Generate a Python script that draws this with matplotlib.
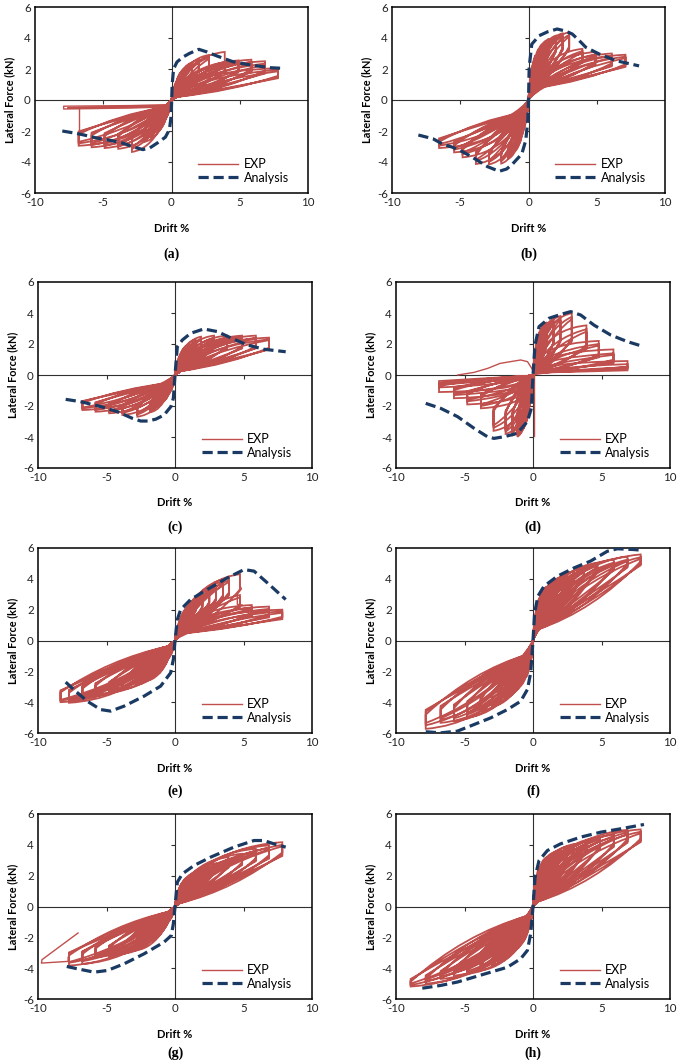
import matplotlib
matplotlib.use("Agg")
import matplotlib.pyplot as plt
from matplotlib.path import Path
from matplotlib.patches import PathPatch
from matplotlib.lines import Line2D
import matplotlib.lines as mlines

plt.rcParams['font.family'] = ['Lato', 'DejaVu Sans']

W, H = 677, 1063
RED = "#C0504D"
NAVY = "#1B3A63"

X_TICKS = [-10, -5, 0, 5, 10]
Y_TICKS = [-6, -4, -2, 0, 2, 4, 6]
CAPTIONS = ["(a)", "(b)", "(c)", "(d)", "(e)", "(f)", "(g)", "(h)"]

# ---------------- panel (a) ----------------
A_ANA_X = [-8.0, -7.0, -6.4, -5.5, -4.5, -3.5, -2.9, -2.1, -1.6, -1.0, -0.45, -0.15, -0.05, 0.0, 0.05, 0.15, 0.4, 0.8, 1.3, 2.0, 2.6, 3.3, 4.5, 5.5, 6.5, 7.3, 8.0]
A_ANA_Y = [-2.0, -2.15, -2.26, -2.45, -2.6, -2.8, -3.0, -3.2, -3.1, -2.75, -2.4, -1.9, -1.2, -0.3, 1.0, 2.0, 2.45, 2.75, 3.0, 3.27, 3.1, 2.85, 2.47, 2.3, 2.17, 2.08, 2.05]
A_POS_D = [0.25, 0.5, 0.75, 1.0, 1.5, 2.0, 2.75, 3.9, 4.9, 5.85, 6.85, 7.8]
A_POS_F1 = [0.9, 1.4, 1.8, 2.05, 2.4, 2.6, 2.9, 3.1, 2.55, 2.6, 2.5, 2.05]
A_POS_F2 = [0.85, 1.3, 1.7, 1.95, 2.3, 2.5, 2.75, 2.45, 2.45, 2.45, 2.35, 1.95]
A_POS_F3 = [0.8, 1.25, 1.65, 1.9, 2.25, 2.45, 2.65, 2.4, 2.35, 2.35, 2.25, 1.85]
A_NEG_D = [-0.25, -0.5, -0.75, -1.0, -1.5, -2.0, -2.9, -3.9, -4.9, -5.85, -6.8]
A_NEG_F1 = [-0.8, -1.3, -1.7, -2.0, -2.4, -2.7, -3.35, -3.15, -3.1, -3.05, -2.95]
A_NEG_F2 = [-0.75, -1.25, -1.6, -1.9, -2.3, -2.6, -3.15, -3.0, -2.95, -2.9, -2.8]
A_NEG_F3 = [-0.7, -1.2, -1.55, -1.85, -2.25, -2.55, -3.05, -2.9, -2.85, -2.8, -2.7]
A_KNEE = [0.3, 1.0, -0.35, -1.0]
A_PINCH = [0.4, 0.2, -0.5, -0.45]
A_RATIO = [0.76, 0.75]
A_EXTRA1_X = [-0.3, -3.0, -7.9, -7.9, -3.0, -0.5, -0.5, -3.0, -7.6]
A_EXTRA1_Y = [-0.3, -0.36, -0.4, -0.58, -0.52, -0.45, -0.38, -0.44, -0.5]
A_EXTRA2_X = [-6.8, -6.8]
A_EXTRA2_Y = [-0.5, -2.2]

# ---------------- panel (b) ----------------
B_ANA_X = [-8.07, -7.0, -6.3, -5.56, -4.8, -4.1, -3.0, -2.15, -1.6, -1.17, -0.49, -0.2, -0.05, 0.0, 0.05, 0.24, 0.78, 1.4, 2.1, 2.7, 3.2, 3.7, 4.2, 5.17, 6.4, 7.2, 8.1]
B_ANA_Y = [-2.26, -2.5, -2.84, -3.05, -3.35, -3.7, -4.3, -4.6, -4.45, -4.13, -3.48, -2.6, -1.3, 0.0, 2.1, 3.6, 4.15, 4.4, 4.58, 4.45, 4.26, 3.85, 3.4, 2.97, 2.54, 2.38, 2.2]
B_POS_D = [0.25, 0.5, 0.75, 1.0, 1.25, 1.5, 2.0, 2.5, 2.98, 3.95, 4.9, 6.1, 7.1]
B_POS_F1 = [2.0, 2.9, 3.3, 3.6, 3.8, 3.95, 4.15, 4.3, 4.37, 3.3, 3.1, 3.0, 2.92]
B_POS_F2 = [1.9, 2.8, 3.2, 3.5, 3.7, 3.85, 4.0, 4.15, 4.2, 3.15, 2.95, 2.85, 2.8]
B_POS_F3 = [1.85, 2.7, 3.1, 3.4, 3.6, 3.75, 3.9, 4.05, 4.1, 3.05, 2.85, 2.75, 2.7]
B_NEG_D = [-0.25, -0.5, -0.75, -1.0, -1.5, -2.0, -2.9, -3.85, -4.83, -5.45, -6.55]
B_NEG_F1 = [-1.5, -2.3, -2.9, -3.3, -3.8, -4.1, -4.15, -4.13, -3.7, -3.38, -3.1]
B_NEG_F2 = [-1.4, -2.2, -2.8, -3.2, -3.7, -3.95, -4.0, -3.95, -3.5, -3.2, -2.95]
B_NEG_F3 = [-1.35, -2.1, -2.7, -3.1, -3.6, -3.85, -3.9, -3.85, -3.4, -3.1, -2.85]
B_KNEE = [0.3, 1.3, -0.3, -1.2]
B_PINCH = [0.4, 0.75, -0.4, -0.8]
B_RATIO = [0.79, 0.87]

# ---------------- panel (c) ----------------
C_ANA_X = [-7.98, -6.9, -5.4, -4.2, -3.1, -2.5, -2.0, -1.4, -0.8, -0.3, -0.12, 0.0, 0.17, 0.54, 1.14, 2.1, 3.1, 4.06, 5.28, 6.5, 8.08]
C_ANA_Y = [-1.57, -1.72, -2.04, -2.37, -2.8, -2.97, -2.97, -2.85, -2.58, -2.04, -1.5, 0.0, 1.83, 2.26, 2.69, 2.97, 2.8, 2.4, 1.94, 1.66, 1.5]
C_POS_D = [0.25, 0.5, 0.75, 1.0, 1.5, 1.9, 2.85, 3.8, 4.9, 5.9, 6.86]
C_POS_F1 = [1.0, 1.5, 1.8, 2.0, 2.3, 2.47, 2.54, 2.54, 2.54, 2.54, 2.41]
C_POS_F2 = [0.95, 1.4, 1.7, 1.9, 2.2, 2.35, 2.4, 2.4, 2.4, 2.4, 2.3]
C_POS_F3 = [0.9, 1.35, 1.65, 1.85, 2.15, 2.3, 2.35, 2.35, 2.35, 2.35, 2.25]
C_NEG_D = [-0.25, -0.5, -0.75, -1.0, -1.5, -1.8, -2.75, -3.84, -4.8, -5.8, -6.76]
C_NEG_F1 = [-0.9, -1.3, -1.6, -1.8, -2.1, -2.4, -2.69, -2.58, -2.47, -2.37, -2.26]
C_NEG_F2 = [-0.85, -1.25, -1.5, -1.7, -2.0, -2.3, -2.55, -2.45, -2.35, -2.25, -2.15]
C_NEG_F3 = [-0.8, -1.2, -1.45, -1.65, -1.95, -2.25, -2.5, -2.4, -2.3, -2.2, -2.1]
C_KNEE = [0.25, 0.9, -0.3, -0.7]
C_PINCH = [0.4, 0.25, -0.4, -0.5]
C_RATIO = [0.73, 0.8]

# ---------------- panel (d) ----------------
D_ANA_X = [-7.83, -6.74, -5.5, -4.3, -3.33, -2.85, -2.1, -1.14, -0.41, -0.12, 0.0, 0.15, 0.44, 1.17, 2.0, 2.75, 3.48, 4.45, 5.67, 6.9, 7.86]
D_ANA_Y = [-1.83, -2.15, -2.69, -3.44, -3.98, -4.09, -3.98, -3.76, -3.0, -2.15, 0.0, 1.94, 3.12, 3.66, 3.9, 4.09, 3.87, 3.22, 2.58, 2.15, 1.89]
D_POS_D = [0.25, 0.5, 0.75, 1.0, 1.5, 2.0, 2.83, 3.9, 4.8, 5.87, 6.9]
D_POS_F1 = [2.0, 2.8, 3.2, 3.4, 3.6, 3.8, 3.98, 3.2, 2.2, 1.65, 0.9]
D_POS_F2 = [1.9, 2.7, 3.1, 3.3, 3.5, 3.65, 3.75, 2.95, 2.0, 1.4, 0.7]
D_POS_F3 = [1.85, 2.6, 3.0, 3.2, 3.4, 3.55, 3.6, 2.8, 1.9, 1.3, 0.5]
D_NEG_D = [-0.25, -0.5, -0.75, -1.0, -1.14, -1.5, -2.0, -2.88, -3.8, -4.8, -5.77, -6.86]
D_NEG_F1 = [-2.0, -3.0, -3.5, -3.8, -3.98, -3.9, -3.8, -3.6, -2.15, -1.9, -1.5, -1.1]
D_NEG_F2 = [-1.9, -2.9, -3.4, -3.7, -3.85, -3.75, -3.65, -3.4, -2.0, -1.7, -1.3, -0.8]
D_NEG_F3 = [-1.85, -2.8, -3.3, -3.6, -3.75, -3.65, -3.55, -3.25, -1.9, -1.6, -1.2, -0.6]
D_KNEE = [0.2, 1.5, -0.2, -1.5]
D_PINCH = [0.3, 0.15, -0.3, -0.05]
D_RATIO = [0.6, 0.65]
D_EXTRA1_X = [0.0, -0.4, -0.9, -2.4, -3.3, -4.3, -5.5]
D_EXTRA1_Y = [0.3, 0.86, 0.97, 0.75, 0.43, 0.17, 0.0]
D_EXTRA2_X = [0.07, 0.07]
D_EXTRA2_Y = [0.0, -3.95]

# ---------------- panel (e) ----------------
E_ANA_X = [-7.98, -7.25, -6.4, -5.43, -4.7, -3.72, -2.26, -1.05, -0.32, -0.12, 0.0, 0.17, 0.41, 1.14, 2.36, 3.82, 5.04, 5.77, 6.74, 8.08]
E_ANA_Y = [-2.7, -3.29, -3.94, -4.48, -4.58, -4.26, -3.61, -2.96, -2.1, -1.23, 0.0, 1.36, 2.0, 2.66, 3.31, 4.06, 4.6, 4.5, 3.74, 2.66]
E_POS_D = [0.25, 0.5, 0.75, 1.0, 1.5, 2.0, 2.5, 3.0, 3.5, 3.94, 4.74, 5.6, 6.86, 7.83]
E_POS_F1 = [1.0, 1.5, 1.9, 2.2, 2.6, 2.9, 3.25, 3.55, 3.8, 4.05, 4.3, 2.3, 2.2, 2.0]
E_POS_F2 = [0.95, 1.45, 1.8, 2.1, 2.5, 2.8, 3.15, 3.45, 3.7, 3.9, 2.95, 2.15, 2.05, 1.9]
E_POS_F3 = [0.9, 1.4, 1.75, 2.05, 2.45, 2.75, 3.1, 3.4, 3.6, 3.8, 2.8, 2.05, 1.95, 1.8]
E_NEG_D = [-0.25, -0.5, -1.0, -1.5, -2.0, -2.87, -3.84, -4.8, -5.8, -6.76, -7.74, -8.35]
E_NEG_F1 = [-0.7, -1.2, -1.8, -2.3, -2.6, -2.9, -3.18, -3.4, -3.5, -3.72, -4.04, -4.0]
E_NEG_F2 = [-0.65, -1.1, -1.7, -2.2, -2.5, -2.75, -3.05, -3.25, -3.35, -3.55, -3.9, -3.9]
E_NEG_F3 = [-0.6, -1.05, -1.65, -2.1, -2.45, -2.7, -3.0, -3.2, -3.3, -3.5, -3.8, -3.85]
E_KNEE = [0.25, 1.0, -0.35, -0.7]
E_PINCH = [0.4, 0.45, -0.5, -0.37]
E_RATIO = [0.77, 0.84]
E_EXTRA1_X = [4.74, 4.74, 4.85, 4.55, 4.55, 4.9]
E_EXTRA1_Y = [4.3, 3.55, 3.35, 3.0, 2.35, 2.3]

# ---------------- panel (f) ----------------
F_ANA_X = [-7.83, -6.74, -5.52, -4.3, -3.09, -1.87, -0.9, -0.41, -0.17, 0.0, 0.12, 0.36, 0.8, 1.78, 3.0, 4.2, 5.43, 6.16, 7.37, 7.86]
F_ANA_Y = [-5.92, -5.99, -5.88, -5.45, -5.02, -4.48, -3.94, -3.18, -2.1, 0.0, 1.8, 2.88, 3.52, 4.17, 4.71, 5.15, 5.79, 5.95, 5.9, 5.86]
F_POS_D = [0.25, 0.5, 1.0, 1.5, 2.0, 2.5, 3.0, 3.72, 4.7, 5.9, 6.9, 7.86]
F_POS_F1 = [2.0, 2.8, 3.5, 3.8, 4.1, 4.3, 4.5, 4.71, 5.04, 5.25, 5.43, 5.58]
F_POS_F2 = [1.9, 2.7, 3.4, 3.7, 3.95, 4.15, 4.35, 4.55, 4.85, 5.05, 5.25, 5.4]
F_POS_F3 = [1.85, 2.6, 3.3, 3.6, 3.85, 4.05, 4.25, 4.45, 4.75, 4.95, 5.15, 5.3]
F_NEG_D = [-0.25, -0.5, -1.0, -1.5, -2.0, -2.5, -3.0, -3.82, -4.8, -5.77, -6.74, -7.83]
F_NEG_F1 = [-1.7, -2.4, -3.0, -3.4, -3.7, -4.0, -4.3, -4.58, -5.0, -5.23, -5.34, -5.73]
F_NEG_F2 = [-1.6, -2.3, -2.9, -3.3, -3.6, -3.85, -4.15, -4.45, -4.8, -5.05, -5.15, -5.5]
F_NEG_F3 = [-1.55, -2.2, -2.8, -3.2, -3.5, -3.75, -4.05, -4.35, -4.7, -4.95, -5.05, -5.35]
F_KNEE = [0.2, 1.8, -0.25, -1.5]
F_PINCH = [0.3, 0.7, -0.4, -0.9]
F_RATIO = [0.92, 0.84]

# ---------------- panel (g) ----------------
G_ANA_X = [-7.9, -7.13, -5.9, -4.94, -3.72, -2.26, -0.8, -0.27, -0.12, 0.0, 0.17, 0.54, 1.39, 2.6, 4.3, 5.77, 6.5, 7.23, 8.08]
G_ANA_Y = [-3.89, -4.04, -4.26, -4.15, -3.72, -3.07, -2.31, -1.88, -1.12, 0.0, 1.58, 2.12, 2.66, 3.2, 3.85, 4.28, 4.28, 4.06, 3.85]
G_POS_D = [0.25, 0.5, 1.0, 1.5, 2.0, 2.5, 3.0, 3.9, 4.9, 5.9, 6.86, 7.83]
G_POS_F1 = [1.0, 1.5, 1.9, 2.2, 2.4, 2.6, 2.8, 3.2, 3.42, 3.74, 3.96, 4.17]
G_POS_F2 = [0.95, 1.45, 1.8, 2.1, 2.3, 2.5, 2.7, 3.05, 3.3, 3.6, 3.8, 4.0]
G_POS_F3 = [0.9, 1.4, 1.75, 2.05, 2.25, 2.45, 2.65, 3.0, 3.2, 3.5, 3.7, 3.9]
G_NEG_D = [-0.25, -0.5, -1.0, -1.5, -2.0, -2.87, -3.84, -4.8, -5.8, -6.76, -7.74]
G_NEG_F1 = [-0.6, -1.0, -1.5, -1.9, -2.3, -2.85, -3.07, -3.24, -3.29, -3.72, -3.83]
G_NEG_F2 = [-0.55, -0.95, -1.45, -1.8, -2.2, -2.7, -2.95, -3.1, -3.15, -3.55, -3.65]
G_NEG_F3 = [-0.5, -0.9, -1.4, -1.75, -2.15, -2.65, -2.9, -3.05, -3.1, -3.5, -3.6]
G_KNEE = [0.25, 1.2, -0.35, -0.7]
G_PINCH = [0.3, 0.2, -0.5, -0.35]
G_RATIO = [0.84, 0.83]
G_EXTRA1_X = [-7.08, -9.71, -9.75, -7.8, -7.8]
G_EXTRA1_Y = [-1.72, -3.45, -3.67, -3.56, -3.3]

# ---------------- panel (h) ----------------
H_ANA_X = [-8.08, -6.74, -5.52, -4.3, -3.09, -1.87, -0.9, -0.41, -0.17, 0.0, 0.15, 0.44, 1.05, 2.0, 3.48, 4.94, 6.4, 8.1]
H_ANA_Y = [-5.3, -5.12, -4.9, -4.58, -4.26, -3.94, -3.39, -2.85, -1.77, 0.0, 1.9, 2.98, 3.63, 4.06, 4.5, 4.82, 5.04, 5.32]
H_POS_D = [0.25, 0.5, 1.0, 1.5, 2.0, 2.5, 3.0, 3.9, 4.9, 5.9, 6.9, 7.86]
H_POS_F1 = [2.0, 2.6, 3.2, 3.5, 3.7, 3.9, 4.05, 4.2, 4.5, 4.65, 4.97, 5.0]
H_POS_F2 = [1.9, 2.5, 3.1, 3.4, 3.6, 3.8, 3.95, 4.05, 4.35, 4.5, 4.8, 4.85]
H_POS_F3 = [1.85, 2.45, 3.0, 3.3, 3.5, 3.7, 3.85, 3.95, 4.25, 4.4, 4.7, 4.75]
H_NEG_D = [-0.25, -0.5, -1.0, -1.5, -2.0, -2.5, -3.0, -3.82, -4.8, -5.77, -6.74, -7.83, -8.93]
H_NEG_F1 = [-1.2, -1.8, -2.5, -2.9, -3.2, -3.5, -3.8, -4.15, -4.37, -4.48, -4.7, -5.0, -5.19]
H_NEG_F2 = [-1.15, -1.7, -2.4, -2.8, -3.1, -3.4, -3.7, -4.0, -4.2, -4.3, -4.55, -4.85, -5.1]
H_NEG_F3 = [-1.1, -1.65, -2.35, -2.75, -3.05, -3.35, -3.65, -3.9, -4.1, -4.2, -4.45, -4.75, -5.0]
H_KNEE = [0.2, 1.7, -0.25, -1.4]
H_PINCH = [0.3, 0.3, -0.4, -0.6]
H_RATIO = [0.88, 0.94]

PANELS = [
    dict(ana=(A_ANA_X, A_ANA_Y), pos=(A_POS_D, A_POS_F1, A_POS_F2, A_POS_F3), neg=(A_NEG_D, A_NEG_F1, A_NEG_F2, A_NEG_F3),
         knee=A_KNEE, pinch=A_PINCH, ratio=A_RATIO, extra=[(A_EXTRA1_X, A_EXTRA1_Y), (A_EXTRA2_X, A_EXTRA2_Y)]),
    dict(ana=(B_ANA_X, B_ANA_Y), pos=(B_POS_D, B_POS_F1, B_POS_F2, B_POS_F3), neg=(B_NEG_D, B_NEG_F1, B_NEG_F2, B_NEG_F3),
         knee=B_KNEE, pinch=B_PINCH, ratio=B_RATIO, extra=[]),
    dict(ana=(C_ANA_X, C_ANA_Y), pos=(C_POS_D, C_POS_F1, C_POS_F2, C_POS_F3), neg=(C_NEG_D, C_NEG_F1, C_NEG_F2, C_NEG_F3),
         knee=C_KNEE, pinch=C_PINCH, ratio=C_RATIO, extra=[]),
    dict(ana=(D_ANA_X, D_ANA_Y), pos=(D_POS_D, D_POS_F1, D_POS_F2, D_POS_F3), neg=(D_NEG_D, D_NEG_F1, D_NEG_F2, D_NEG_F3),
         knee=D_KNEE, pinch=D_PINCH, ratio=D_RATIO, extra=[(D_EXTRA1_X, D_EXTRA1_Y), (D_EXTRA2_X, D_EXTRA2_Y)]),
    dict(ana=(E_ANA_X, E_ANA_Y), pos=(E_POS_D, E_POS_F1, E_POS_F2, E_POS_F3), neg=(E_NEG_D, E_NEG_F1, E_NEG_F2, E_NEG_F3),
         knee=E_KNEE, pinch=E_PINCH, ratio=E_RATIO, extra=[(E_EXTRA1_X, E_EXTRA1_Y)]),
    dict(ana=(F_ANA_X, F_ANA_Y), pos=(F_POS_D, F_POS_F1, F_POS_F2, F_POS_F3), neg=(F_NEG_D, F_NEG_F1, F_NEG_F2, F_NEG_F3),
         knee=F_KNEE, pinch=F_PINCH, ratio=F_RATIO, extra=[]),
    dict(ana=(G_ANA_X, G_ANA_Y), pos=(G_POS_D, G_POS_F1, G_POS_F2, G_POS_F3), neg=(G_NEG_D, G_NEG_F1, G_NEG_F2, G_NEG_F3),
         knee=G_KNEE, pinch=G_PINCH, ratio=G_RATIO, extra=[(G_EXTRA1_X, G_EXTRA1_Y)]),
    dict(ana=(H_ANA_X, H_ANA_Y), pos=(H_POS_D, H_POS_F1, H_POS_F2, H_POS_F3), neg=(H_NEG_D, H_NEG_F1, H_NEG_F2, H_NEG_F3),
         knee=H_KNEE, pinch=H_PINCH, ratio=H_RATIO, extra=[]),
]

# axes rectangles in pixels: left, right, top, bottom
RECTS = [
    (35, 308, 7, 193), (392, 665, 7, 193),
    (38, 312, 282, 468), (396, 670, 282, 468),
    (38, 312, 548, 733), (396, 670, 548, 733),
    (38, 312, 814, 999), (396, 670, 814, 999),
]
CAPTION_GAP = [61, 61, 59, 59, 58, 58, 54, 54]

# loop shape for the 1st, 2nd and 3rd cycle at a drift level: knee scale, curve fullness, unloading sag
CYCLE_SHAPE = [(1.0, 0.93, 0.28), (0.6, 0.8, 0.4), (0.35, 0.66, 0.52)]


def half_cycle(verts, codes, d, f, kx, ky, px, py, r, shape):
    """Append one half loop (load from origin to peak, unload back) as path segments."""
    ks, full, sag = shape
    if abs(d) > 2 * abs(kx):
        kyy = ky * ks if abs(ky * ks) < 0.8 * abs(f) else 0.6 * f * ks
        verts += [(kx, kyy), (kx + 0.3 * (d - kx), full * f), (d, f)]
        codes += [Path.CURVE4] * 3
    else:
        verts += [(0.3 * d, 0.75 * f), (d, f)]
        codes += [Path.CURVE3] * 2
    verts.append((d, r * f)); codes.append(Path.LINETO)
    if abs(d) > 2 * abs(px):
        verts += [(px + 0.55 * (d - px), py + sag * (r * f - py)), (px, py)]
        codes += [Path.CURVE3] * 2
    verts.append((0.0, 0.0)); codes.append(Path.LINETO)


fig = plt.figure(figsize=(W / 100, H / 100), dpi=100)

for i, p in enumerate(PANELS):
    l, r_, t, b = RECTS[i]
    ax = fig.add_axes([l / W, 1 - b / H, (r_ - l) / W, (b - t) / H])
    ax.set_xlim(-10, 10)
    ax.set_ylim(-6, 6)

    # EXP hysteresis: three cycles at every drift level, positive then negative half
    verts = [(0.0, 0.0)]
    codes = [Path.MOVETO]
    pd = p['pos'][0]
    nd = p['neg'][0]
    kx, ky, nkx, nky = p['knee']
    px, py, npx, npy = p['pinch']
    rp, rn = p['ratio']
    for k in range(max(len(pd), len(nd))):
        for c in (1, 2, 3):
            shape = CYCLE_SHAPE[c - 1]
            if k < len(pd):
                half_cycle(verts, codes, pd[k], p['pos'][c][k], kx, ky, px, py, rp, shape)
            if k < len(nd):
                half_cycle(verts, codes, nd[k], p['neg'][c][k], nkx, nky, npx, npy, rn, shape)
    ax.add_patch(PathPatch(Path(verts, codes), facecolor='none', edgecolor=RED, lw=1.3, zorder=3))
    for ex, ey in p['extra']:
        ax.plot(ex, ey, color=RED, lw=1.0, zorder=3)

    # Analysis
    axx, ayy = p['ana']
    ax.plot(axx, ayy, color=NAVY, lw=2.3, dashes=(3.2, 1.5), dash_capstyle='butt', zorder=4)

    # zero axes
    ax.axhline(0, color='#303030', lw=0.8, zorder=2)
    ax.axvline(0, color='#303030', lw=0.8, zorder=2)
    ax.plot([-5, 5], [0, 0], ls='', marker=mlines.TICKDOWN, ms=3, mew=0.8, color='#303030', zorder=2)
    ax.plot([0, 0, 0, 0], [-4, -2, 2, 4], ls='', marker=mlines.TICKLEFT, ms=3, mew=0.8, color='#303030', zorder=2)

    ax.set_xticks(X_TICKS)
    ax.set_yticks(Y_TICKS)
    ax.set_xticklabels([str(v) for v in X_TICKS])
    ax.set_yticklabels([str(v) for v in Y_TICKS])
    ax.tick_params(length=0, labelsize=8.3, pad=3, colors='#222222')
    for s in ax.spines.values():
        s.set_linewidth(1.1)
        s.set_color('black')

    h1 = Line2D([], [], color=RED, lw=1.0)
    h2 = Line2D([], [], color=NAVY, lw=2.3, dashes=(3.2, 1.5), dash_capstyle='butt')
    ax.legend([h1, h2], ['EXP', 'Analysis'], loc='lower left', bbox_to_anchor=(0.597, 0.05),
              frameon=False, fontsize=9.0, handlelength=3.2, handletextpad=0.45,
              labelspacing=0.12, borderpad=0, borderaxespad=0)

    cx = (l + r_) / 2
    fig.text((l - 25) / W, 1 - ((t + b) / 2) / H, 'Lateral Force (kN)', rotation=90, ha='center', va='center',
             fontsize=7.8, fontweight='bold')
    fig.text(cx / W, 1 - (b + 35) / H, 'Drift %', ha='center', va='center', fontsize=8, fontweight='bold')
    fig.text(cx / W, 1 - (b + CAPTION_GAP[i]) / H, CAPTIONS[i], ha='center', va='center', fontsize=10,
             fontweight='bold', family='Liberation Serif')

fig.savefig('out.png', dpi=100)
